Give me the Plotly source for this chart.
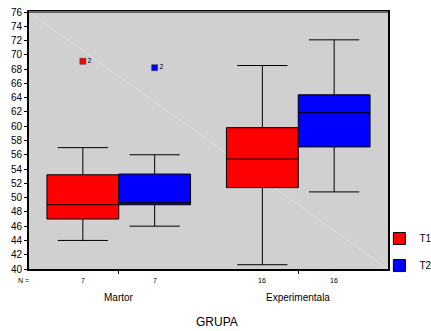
import plotly.graph_objects as go

groups = ["Martor", "Experimentala"]
series = ["T1", "T2"]
colors = {"T1": "#ff0000", "T2": "#0000ff"}
n_counts = {"T1": [7, 16], "T2": [7, 16]}

q1 = {"T1": [47.0, 51.4], "T2": [49.0, 57.1]}
median = {"T1": [49.0, 55.4], "T2": [49.3, 61.9]}
q3 = {"T1": [53.2, 59.8], "T2": [53.3, 64.4]}
lowerfence = {"T1": [44.0, 40.6], "T2": [46.0, 50.8]}
upperfence = {"T1": [57.0, 68.5], "T2": [56.0, 72.1]}
outlier_val = {"T1": [69.1], "T2": [68.2]}
outlier_grp = {"T1": [0], "T2": [0]}
outlier_lbl = {"T1": ["2"], "T2": ["2"]}

offset = {"T1": -0.2, "T2": 0.2}

fig = go.Figure()
for s in series:
    xs = [i + offset[s] for i in range(len(groups))]
    fig.add_trace(go.Box(
        name=s, x=xs, q1=q1[s], median=median[s], q3=q3[s],
        lowerfence=lowerfence[s], upperfence=upperfence[s],
        width=0.4, whiskerwidth=0.7, fillcolor=colors[s],
        line=dict(color="#000000", width=1), boxpoints=False,
        legendgroup=s, hoverinfo="skip",
    ))
for s in series:
    fig.add_trace(go.Scatter(
        x=[g + offset[s] for g in outlier_grp[s]], y=outlier_val[s],
        mode="markers+text", text=outlier_lbl[s], textposition="middle right",
        textfont=dict(size=7, color="#000000"),
        marker=dict(symbol="square", size=6, color=colors[s],
                    line=dict(color="#333333", width=0.5)),
        showlegend=False, hoverinfo="skip", cliponaxis=False,
    ))

annotations = [dict(x=-0.035, y=-0.025, xref="paper", yref="paper", text="N =",
                    showarrow=False, xanchor="left", yanchor="top",
                    font=dict(size=7, color="#000"))]
for s in series:
    for i, n in enumerate(n_counts[s]):
        annotations.append(dict(x=i + offset[s], y=-0.025, xref="x", yref="paper",
                                text=str(n), showarrow=False, yanchor="top",
                                font=dict(size=7, color="#000")))
for i, g in enumerate(groups):
    annotations.append(dict(x=i, y=-0.08, xref="x", yref="paper", text=g,
                            showarrow=False, yanchor="top",
                            font=dict(size=10, color="#000")))
annotations.append(dict(x=0.523, y=-0.17, xref="paper", yref="paper", text="GRUPA",
                        showarrow=False, yanchor="top",
                        font=dict(size=12, color="#000")))

fig.update_layout(
    width=431, height=331,
    margin=dict(l=29, r=43, t=12, b=62, autoexpand=False),
    paper_bgcolor="white", plot_bgcolor="#d0d0d0",
    font=dict(family="Liberation Sans, Arial", size=10, color="#000"),
    boxmode="overlay",
    showlegend=True,
    legend=dict(x=0.976, y=-0.043, xanchor="left", yanchor="bottom",
                font=dict(size=10), tracegroupgap=8, bgcolor="rgba(0,0,0,0)"),
    annotations=annotations,
    shapes=[
        dict(type="line", xref="paper", yref="paper", x0=0, y0=1, x1=1, y1=0,
             line=dict(color="#e8e8e8", width=0.6), layer="below"),
        dict(type="line", xref="paper", yref="paper", x0=0, y0=1, x1=1, y1=1,
             line=dict(color="#666666", width=2)),
    ],
)
fig.update_xaxes(range=[-0.5, 1.5], tickvals=[0, 1], ticks="outside",
                 ticklen=3, tickcolor="#000", showgrid=False, zeroline=False,
                 showline=True, linecolor="#000", linewidth=2, mirror=True,
                 showticklabels=False)
fig.update_yaxes(range=[40, 76], dtick=2, ticks="outside", ticklen=3,
                 tickcolor="#000", showgrid=False, zeroline=False,
                 showline=True, linecolor="#000", linewidth=2, mirror=True,
                 tickfont=dict(size=10))

fig.write_html("out.html", config={"displayModeBar": False},
               post_script="document.body.style.margin='0';")
